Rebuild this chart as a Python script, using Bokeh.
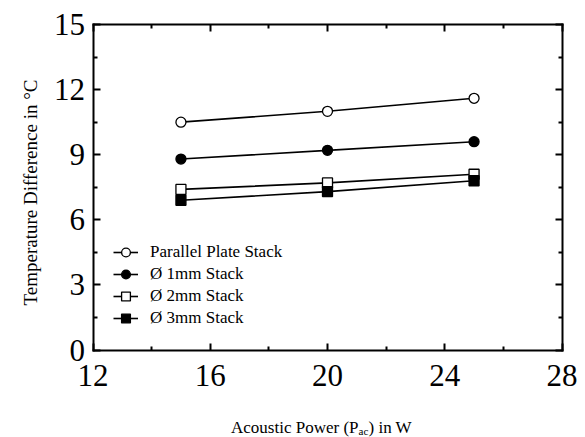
import math

from bokeh.plotting import figure
from bokeh.models import (Range1d, LinearAxis, FixedTicker, Label,
                          Legend, LegendItem)
from bokeh.embed import file_html
from bokeh.resources import INLINE

# Measured temperature difference across the stack vs. acoustic power
power_w = [15, 20, 25]
parallel_plate = [10.5, 11.0, 11.6]
dia_1mm = [8.8, 9.2, 9.6]
dia_2mm = [7.4, 7.7, 8.1]
dia_3mm = [6.9, 7.3, 7.8]

series_names = ["Parallel Plate Stack", "Ø 1mm Stack", "Ø 2mm Stack", "Ø 3mm Stack"]
series_values = [parallel_plate, dia_1mm, dia_2mm, dia_3mm]
series_markers = ["circle", "circle", "square", "square"]
series_fills = ["white", "black", "white", "black"]

x_ticks = [12, 16, 20, 24, 28]
x_minor_ticks = [14, 18, 22, 26]
y_ticks = [0, 3, 6, 9, 12, 15]
y_minor_ticks = [1.5, 4.5, 7.5, 10.5, 13.5]

FONT = "Liberation Serif"

# Canvas size and the boxed plot area inside it (pixels from the top-left)
W, H = 585, 437
BOX_L, BOX_R, BOX_T, BOX_B = 92.5, 561.5, 24.0, 349.5

# The frame spans the whole canvas; the axes are pinned at the box edges,
# so the data ranges are widened to put the box where it belongs.
x0, x1 = x_ticks[0], x_ticks[-1]
y0, y1 = y_ticks[0], y_ticks[-1]
sx = (BOX_R - BOX_L) / (x1 - x0)
sy = (BOX_B - BOX_T) / (y1 - y0)
x_range = Range1d(x0 - BOX_L / sx, x1 + (W - BOX_R) / sx)
y_range = Range1d(y0 - (H - BOX_B) / sy, y1 + BOX_T / sy)

p = figure(width=W, height=H, output_backend="svg", toolbar_location=None,
           x_range=x_range, y_range=y_range,
           x_axis_location=None, y_axis_location=None, min_border=0)
p.grid.visible = False
p.outline_line_color = None
p.background_fill_color = "white"
p.border_fill_color = "white"


def make_axis(ticks, minor, bounds, loc, show_labels):
    ax = LinearAxis(ticker=FixedTicker(ticks=ticks, minor_ticks=minor),
                    bounds=bounds, fixed_location=loc)
    ax.axis_line_color = "black"
    ax.axis_line_width = 2
    ax.axis_line_cap = "square"
    ax.major_tick_in = 7
    ax.major_tick_out = 0
    ax.minor_tick_in = 4
    ax.minor_tick_out = 0
    ax.major_tick_line_width = 2
    ax.minor_tick_line_width = 2
    ax.major_tick_line_color = "black"
    ax.minor_tick_line_color = "black"
    ax.major_label_text_font = FONT
    ax.major_label_text_color = "black"
    ax.major_label_text_font_size = "31px"
    if not show_labels:
        ax.major_label_overrides = {t: "" for t in ticks}
    return ax


bottom = make_axis(x_ticks, x_minor_ticks, (x0, x1), y0, True)
bottom.major_label_standoff = 15
left = make_axis(y_ticks, y_minor_ticks, (y0, y1), x0, True)
left.major_label_standoff = 8
p.add_layout(bottom, "below")
p.add_layout(left, "left")
p.add_layout(make_axis(x_ticks, x_minor_ticks, (x0, x1), y1, False), "above")
p.add_layout(make_axis(y_ticks, y_minor_ticks, (y0, y1), x1, False), "right")

items = []
for name, vals, marker, fill in zip(series_names, series_values, series_markers, series_fills):
    ln = p.line(power_w, vals, line_color="black", line_width=1.6)
    sc = p.scatter(power_w, vals, marker=marker, size=10, fill_color=fill,
                   line_color="black", line_width=1.3)
    items.append(LegendItem(label=name, renderers=[ln, sc]))

legend = Legend(items=items, location=(113, 108))
legend.label_text_font = FONT
legend.label_text_font_size = "17px"
legend.label_text_color = "black"
legend.glyph_width = 25
legend.glyph_height = 22
legend.label_height = 22
legend.label_standoff = 12
legend.spacing = 0
legend.padding = 0
legend.margin = 0
legend.border_line_color = None
legend.background_fill_alpha = 0
p.add_layout(legend)

# axis titles
title_style = dict(x_units="screen", y_units="screen", text_font=FONT,
                   text_color="black", text_baseline="alphabetic")
p.add_layout(Label(x=30, y=245, angle=math.pi / 2, text="Temperature Difference in °C",
                   text_align="center", text_font_size="19px", **title_style))
p.add_layout(Label(x=358, y=10, text="Acoustic Power (P", text_align="right",
                   text_font_size="17px", **title_style))
p.add_layout(Label(x=358, y=6.5, text="ac", text_align="left",
                   text_font_size="11px", **title_style))
p.add_layout(Label(x=368, y=10, text=") in W", text_align="left",
                   text_font_size="17px", **title_style))

open("out.html", "w").write(file_html(p, INLINE))
